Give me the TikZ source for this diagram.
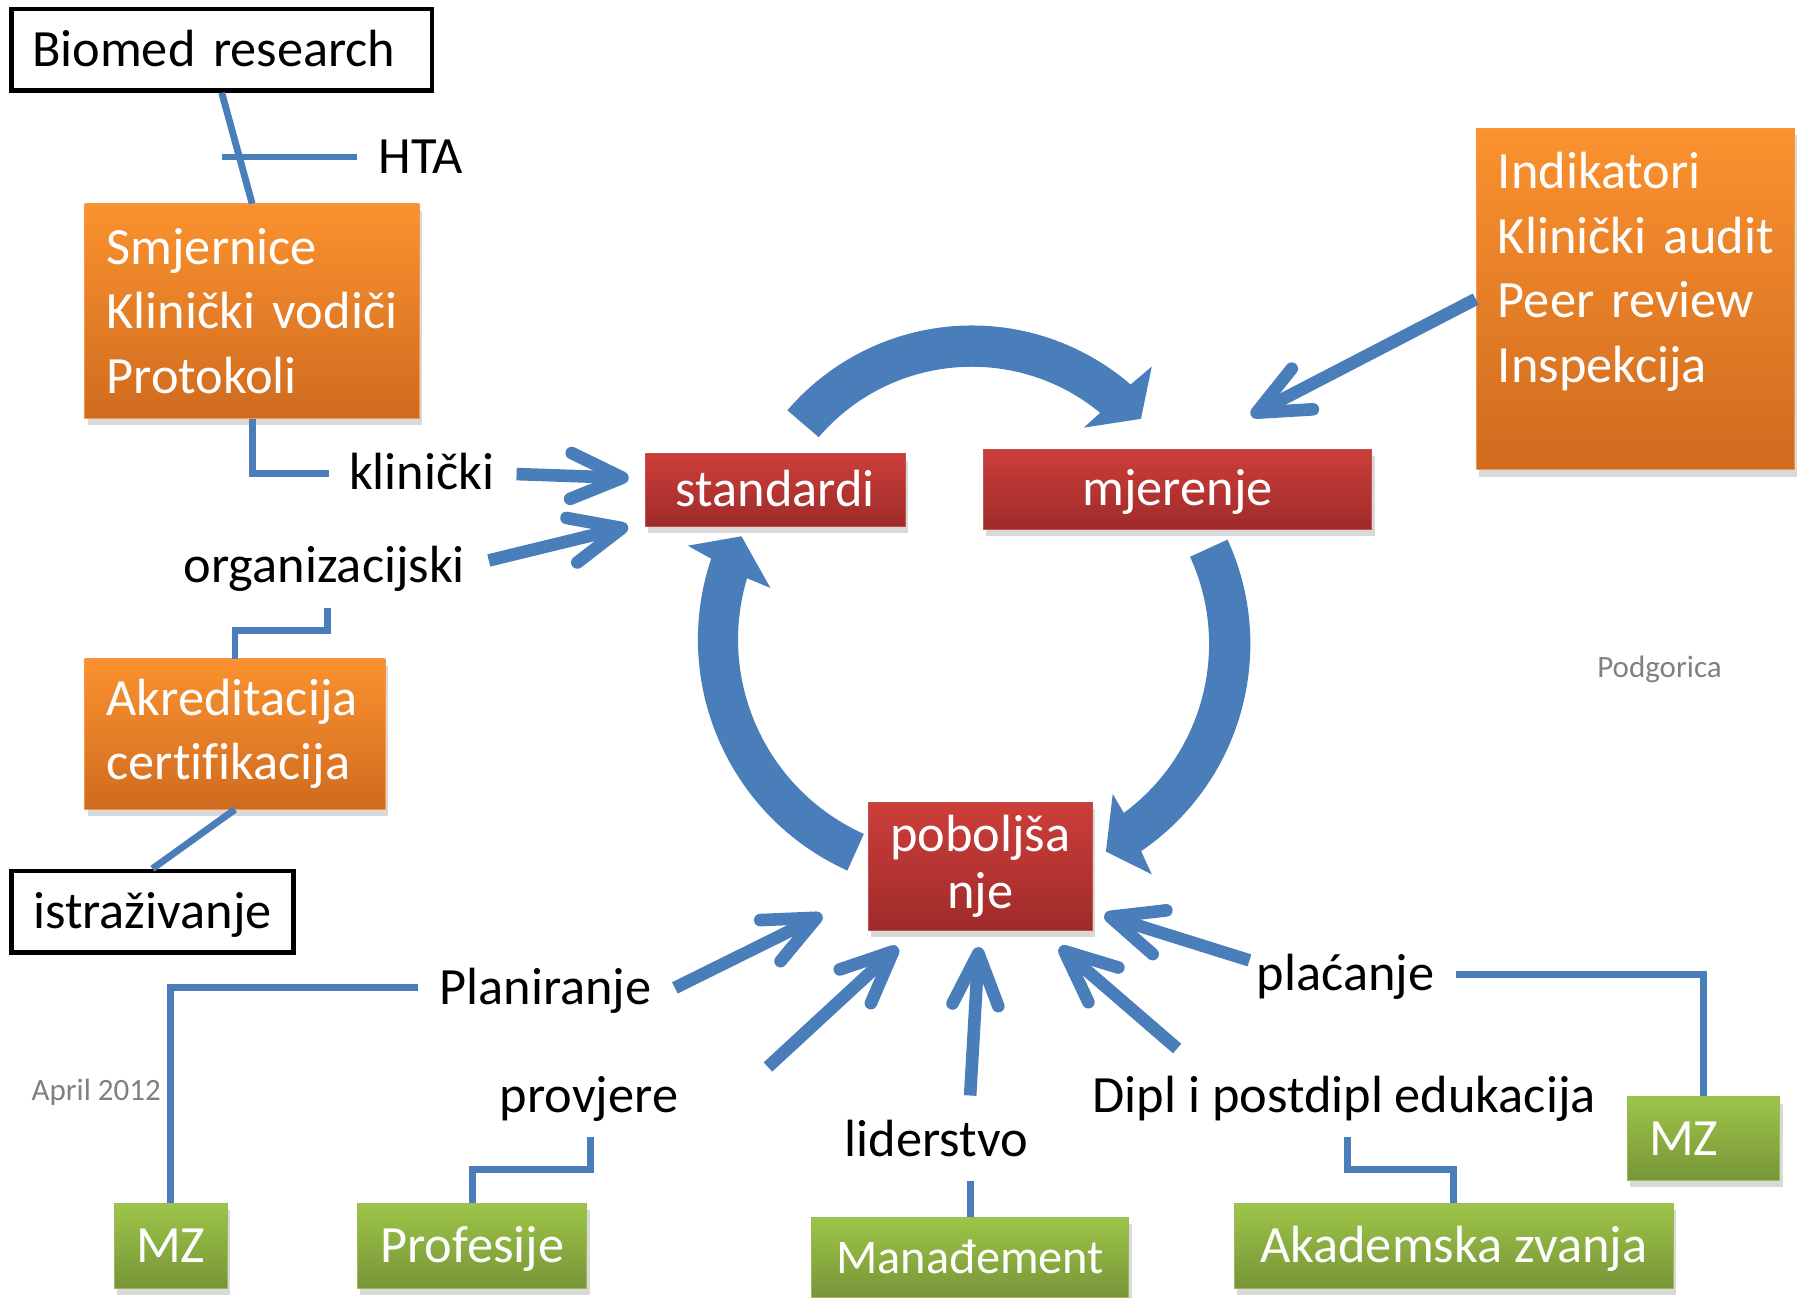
\documentclass[tikz,border=0pt]{standalone}
\usepackage{fontspec}
\setmainfont{Carlito}[Ligatures=CommonOff]
\usepackage{xcolor}
\usetikzlibrary{arrows.meta,calc,shadows}
\definecolor{cblue}{HTML}{4A7EBB}
\definecolor{orTop}{HTML}{FB922F}
\definecolor{orBot}{HTML}{CF6B1F}
\definecolor{orEdge}{HTML}{F79646}
\definecolor{rdTop}{HTML}{CD3E3A}
\definecolor{rdBot}{HTML}{9E2B2A}
\definecolor{rdEdge}{HTML}{C0504D}
\definecolor{grTop}{HTML}{9DC548}
\definecolor{grBot}{HTML}{779538}
\definecolor{grEdge}{HTML}{9BBB59}
\definecolor{textgray}{HTML}{808080}
\newcommand{\txtbig}{\fontsize{26}{32}\selectfont}
\newcommand{\txtsmall}{\fontsize{15.4}{18}\selectfont}

\begin{document}
\begin{tikzpicture}[
  x=0.2mm, y=-0.2mm,
  every node/.style={font=\txtbig},
  lbl/.style={inner sep=0pt,text height=20pt,text depth=3.6pt},
  note/.style={inner sep=0pt,font=\txtsmall,text=textgray},
  oneline/.style={text height=20pt,text depth=3.6pt},
  plainbox/.style={draw=black,line width=0.8mm,fill=white,inner xsep=3.6mm,inner ysep=0pt},
  tint/.style={inner xsep=3.8mm,inner ysep=0pt,text=white,line width=0.4pt,
    drop shadow={shadow xshift=0.5mm,shadow yshift=-1.2mm,opacity=0.3}},
  orangebox/.style={tint,top color=orTop,bottom color=orBot,draw=orEdge,align=left},
  redbox/.style={tint,top color=rdTop,bottom color=rdBot,draw=rdEdge,align=center},
  greenbox/.style={tint,top color=grTop,bottom color=grBot,draw=grEdge,align=center},
  link/.style={draw=cblue,line width=1.2mm},
  arr/.style={draw=cblue,line width=2.2mm,-{Straight Barb[length=9mm,width=8mm,round]}},
  cyc/.style={fill=cblue}
]
\useasboundingbox (0,0) rectangle (1568,1132);

% boxes
\node[plainbox,oneline,text width=6.62cm,align=left,minimum height=1.42cm] (biomed) at (193.5,43.5) {Biomed research};
\node[orangebox,text width=5.08cm,minimum height=3.74cm] (smj) at (220,271.5) {Smjernice\\Klinički vodiči\\Protokoli};
\node[orangebox,text width=4.8cm,minimum height=5.96cm] (indik) at (1427,261)
  {\parbox[c][5.96cm][t]{5.4cm}{\vspace*{4.2mm}Indikatori\\Klinički audit\\Peer review\\Inspekcija}};
\node[orangebox,text width=4.48cm,minimum height=2.62cm] (akr) at (205,640.5) {Akreditacija\\certifikacija};
\node[plainbox,oneline,minimum width=4.92cm,minimum height=1.42cm] (istr) at (133,795.5) {istraživanje};

\node[redbox,oneline,minimum width=4.54cm,minimum height=1.26cm] (std) at (676.5,427.5) {standardi};
\node[redbox,oneline,minimum width=6.78cm,minimum height=1.4cm] (mjer) at (1027.5,427) {mjerenje};
\node[redbox,font=\fontsize{26}{28.5}\selectfont,minimum width=3.78cm,minimum height=2.24cm] (pob) at (855.5,756) {poboljša\\nje};

\node[greenbox,oneline,minimum width=1.92cm,minimum height=1.48cm] (mz1) at (149,1087) {MZ};
\node[greenbox,oneline,minimum width=4cm,minimum height=1.48cm] (prof) at (412,1087) {Profesije};
\node[greenbox,oneline,font=\fontsize{24}{29}\selectfont,minimum width=5.54cm,minimum height=1.4cm] (mana) at (846.5,1097) {Manađement};
\node[greenbox,oneline,minimum width=7.66cm,minimum height=1.48cm] (akad) at (1268.5,1087) {Akademska zvanja};
\node[greenbox,oneline,text width=1.9cm,align=left,minimum height=1.46cm] (mz2) at (1486.5,993.5) {MZ};

% labels
\node[lbl] (hta) at (367,137) {HTA};
\node[lbl] (klin) at (368,413) {klinički};
\node[lbl] (org) at (283,494) {organizacijski};
\node[lbl] (plan) at (476,862) {Planiranje};
\node[lbl] (provj) at (514,956) {provjere};
\node[lbl] (lider) at (817,995) {liderstvo};
\node[lbl] (dipl) at (1173,956) {Dipl i postdipl edukacija};
\node[lbl] (plac) at (1174,850) {plaćanje};
\node[note] (podg) at (1448,584) {Podgorica};
\node[note] (april) at (84,953) {April 2012};

% cycle
\coordinate (ctop) at (848,496);
\coordinate (cright) at (872,562);
\coordinate (cleft) at (830,558);
\fill[cyc] ($(ctop)+(139.4:4.24cm)$) arc[start angle=139.4,end angle=49.2,radius=4.24cm]
  -- ($(ctop)+(48.3:4.72cm)$) -- ($(ctop)+(41.5:3.94cm)$) -- ($(ctop)+(51.5:3.14cm)$)
  -- ($(ctop)+(50.5:3.52cm)$) arc[start angle=50.5,end angle=139.4,radius=3.52cm] -- cycle;
\fill[cyc] ($(cright)+(24.6:4.38cm)$) arc[start angle=24.6,end angle=-55.6,radius=4.38cm]
  -- ($(cright)+(-56.5:4.82cm)$) -- ($(cright)+(-62.8:4.07cm)$) -- ($(cright)+(-52.9:3.28cm)$)
  -- ($(cright)+(-53.6:3.66cm)$) arc[start angle=-53.6,end angle=24.6,radius=3.66cm] -- cycle;
\fill[cyc] ($(cleft)+(245.8:4.42cm)$) arc[start angle=245.8,end angle=161.4,radius=4.42cm]
  -- ($(cleft)+(160.4:4.88cm)$) -- ($(cleft)+(153.8:4.08cm)$) -- ($(cleft)+(164.1:3.28cm)$)
  -- ($(cleft)+(163.3:3.72cm)$) arc[start angle=163.3,end angle=245.8,radius=3.72cm] -- cycle;

% links
\draw[link] (biomed.south) -- (smj.north);
\draw[link] ($(hta.west)+(-18,0)$) -- (hta.west -| biomed.south);
\draw[link] (smj.south) |- ($(klin.west)+(-17,0)$);
\draw[link] ($(org.south)+(3,15)$) -- ++(0,20) -| (akr.north);
\draw[link] (akr.south) -- (istr.north);
\draw[link] ($(plan.west)+(-18,0)$) -| (mz1.north);
\draw[link] ($(provj.south)+(1,15)$) -- ++(0,28) -| (prof.north);
\draw[link] ($(lider.south -| mana.north)+(0,14)$) -- (mana.north);
\draw[link] ($(dipl.south)+(3,15)$) -- ++(0,28) -| (akad.north);
\draw[link] ($(plac.east)+(19,0)$) -| (mz2.north);

% arrows
\draw[arr,shorten <=3.8mm,shorten >=2.8mm] (klin.east) -- (std.175);
\draw[arr,shorten <=4.2mm,shorten >=3mm] (org.east) -- (std.194);
\draw[arr] (indik.west) -- ($(mjer.north)+(64,-29)$);
\draw[arr] ($(plan.east)+(20,0)$) -- ($(pob.south west)+(-40,-14)$);
\draw[arr] ($(provj.east)+(78,-25)$) -- ($(pob.south west)+(26,14)$);
\draw[arr] ($(lider.north -| mana.north)+(0,-18)$) -- ($(pob.south)+(-1.5,14)$);
\draw[arr] ($(dipl.north west)+(74,-20)$) -- ($(pob.south east)+(-29,14)$);
\draw[arr] ($(plac.west)+(-6,-12)$) -- ($(pob.south east)+(10,-14)$);
\end{tikzpicture}
\end{document}
